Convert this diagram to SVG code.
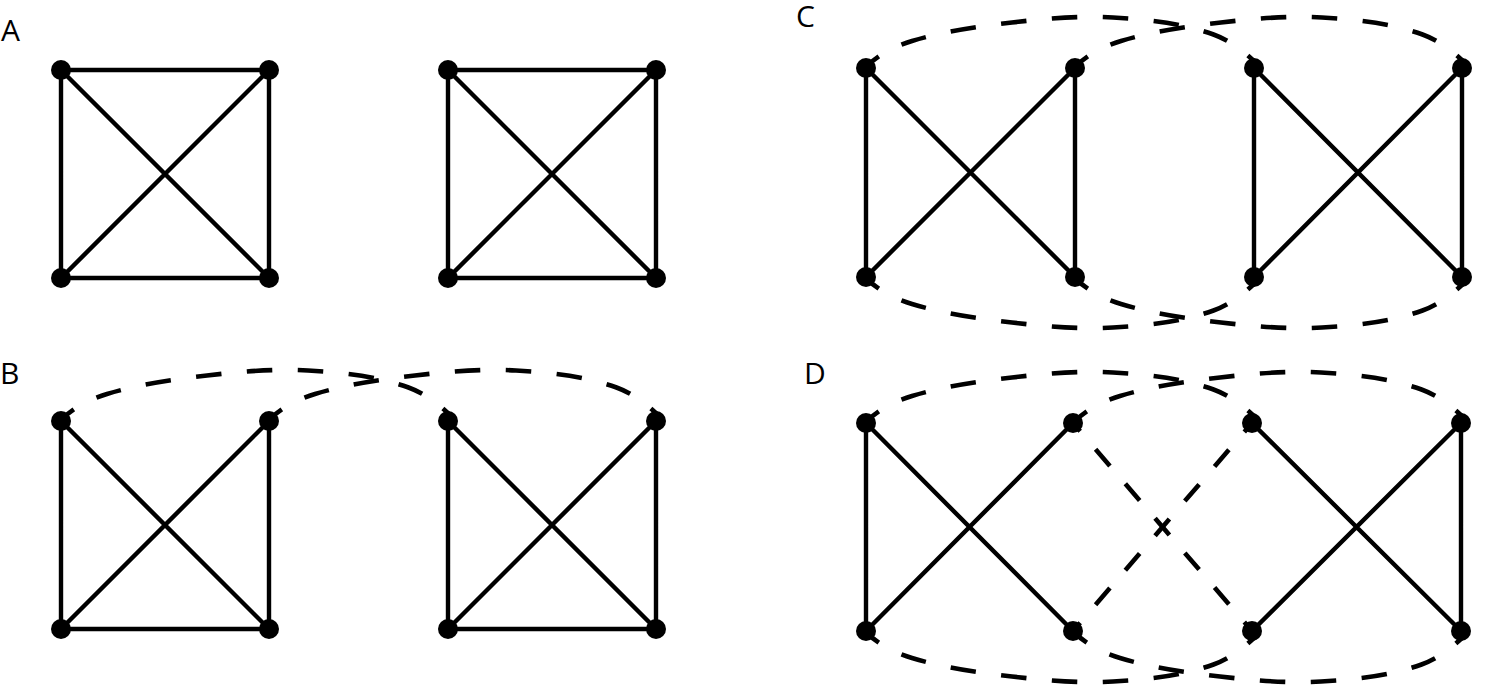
<svg xmlns="http://www.w3.org/2000/svg" width="1488" height="685" viewBox="0 0 1488 685">
<style>
.e{stroke:#000;stroke-width:4.4;fill:none}
.d{stroke:#000;stroke-width:4.6;fill:none;stroke-dasharray:25.5 25.5;stroke-dashoffset:10.2}
.x{stroke:#000;stroke-width:4.6;fill:none;stroke-dasharray:22 23.6;stroke-dashoffset:11}
.n{fill:#000}
.t{font-family:"Open Sans","Liberation Sans",Arial,sans-serif;font-size:30px;fill:#000}
</style>
<defs>
<path id="arc" d="M1 -2C13 -14 29.7 -22.1 46 -27C78.6 -36.8 112.2 -41.6 146 -45.5C179.8 -49.4 213.1 -52.5 247 -50.5C280.9 -48.5 315.5 -45 347.5 -33.5C364.4 -27.4 379.3 -15.7 392 -3"/>
</defs>
<rect width="1488" height="685" fill="#fff"/>
<g id="labels">
<text class="t" x="1" y="41">A</text>
<text class="t" x="0" y="384">B</text>
<text class="t" x="796" y="27">C</text>
<text class="t" x="804" y="384">D</text>
</g>
<g id="connectors">
<!-- A -->
<path class="e" d="M61 70H269V278H61ZM61 70L269 278M269 70L61 278"/>
<path class="e" d="M448 70H656V278H448ZM448 70L656 278M656 70L448 278"/>
<!-- B -->
<path class="e" d="M61 421V629H269V421M61 421L269 629M269 421L61 629"/>
<path class="e" d="M448 421V629H656V421M448 421L656 629M656 421L448 629"/>
<use href="#arc" class="d" transform="translate(61 421)"/>
<use href="#arc" class="d" transform="translate(269 421)"/>
<!-- C -->
<path class="e" d="M866 68V277M1075 68V277M866 68L1075 277M1075 68L866 277"/>
<path class="e" d="M1254 68V277M1462 68V277M1254 68L1462 277M1462 68L1254 277"/>
<use href="#arc" class="d" transform="translate(866 68)"/>
<use href="#arc" class="d" transform="translate(1075 68)"/>
<use href="#arc" class="d" transform="translate(866 277) scale(1 -1)"/>
<use href="#arc" class="d" transform="translate(1075 277) scale(1 -1)"/>
<!-- D -->
<path class="e" d="M866 423V631M866 423L1073 631M1073 423L866 631"/>
<path class="e" d="M1461 423V631M1252 423L1461 631M1461 423L1252 631"/>
<path class="x" d="M1073 423L1252 631"/>
<path class="x" d="M1073 631L1252 423"/>
<use href="#arc" class="d" transform="translate(866 423)"/>
<use href="#arc" class="d" transform="translate(1074 423)"/>
<use href="#arc" class="d" transform="translate(866 631) scale(1 -1)"/>
<use href="#arc" class="d" transform="translate(1074 631) scale(1 -1)"/>
</g>
<g id="nodesA">
<circle id="a1" class="n" cx="61" cy="70" r="10"/>
<circle id="a2" class="n" cx="269" cy="70" r="10"/>
<circle id="a3" class="n" cx="61" cy="278" r="10"/>
<circle id="a4" class="n" cx="269" cy="278" r="10"/>
<circle id="a5" class="n" cx="448" cy="70" r="10"/>
<circle id="a6" class="n" cx="656" cy="70" r="10"/>
<circle id="a7" class="n" cx="448" cy="278" r="10"/>
<circle id="a8" class="n" cx="656" cy="278" r="10"/>
</g>
<g id="nodesB">
<circle id="b1" class="n" cx="61" cy="421" r="10"/>
<circle id="b2" class="n" cx="269" cy="421" r="10"/>
<circle id="b3" class="n" cx="61" cy="629" r="10"/>
<circle id="b4" class="n" cx="269" cy="629" r="10"/>
<circle id="b5" class="n" cx="448" cy="421" r="10"/>
<circle id="b6" class="n" cx="656" cy="421" r="10"/>
<circle id="b7" class="n" cx="448" cy="629" r="10"/>
<circle id="b8" class="n" cx="656" cy="629" r="10"/>
</g>
<g id="nodesC">
<circle id="c1" class="n" cx="866" cy="68" r="10"/>
<circle id="c2" class="n" cx="1075" cy="68" r="10"/>
<circle id="c3" class="n" cx="866" cy="277" r="10"/>
<circle id="c4" class="n" cx="1075" cy="277" r="10"/>
<circle id="c5" class="n" cx="1254" cy="68" r="10"/>
<circle id="c6" class="n" cx="1462" cy="68" r="10"/>
<circle id="c7" class="n" cx="1254" cy="277" r="10"/>
<circle id="c8" class="n" cx="1462" cy="277" r="10"/>
</g>
<g id="nodesD">
<circle id="d1" class="n" cx="866" cy="423" r="10"/>
<circle id="d2" class="n" cx="1073" cy="423" r="10"/>
<circle id="d3" class="n" cx="866" cy="631" r="10"/>
<circle id="d4" class="n" cx="1073" cy="631" r="10"/>
<circle id="d5" class="n" cx="1252" cy="423" r="10"/>
<circle id="d6" class="n" cx="1461" cy="423" r="10"/>
<circle id="d7" class="n" cx="1252" cy="631" r="10"/>
<circle id="d8" class="n" cx="1461" cy="631" r="10"/>
</g>
</svg>
